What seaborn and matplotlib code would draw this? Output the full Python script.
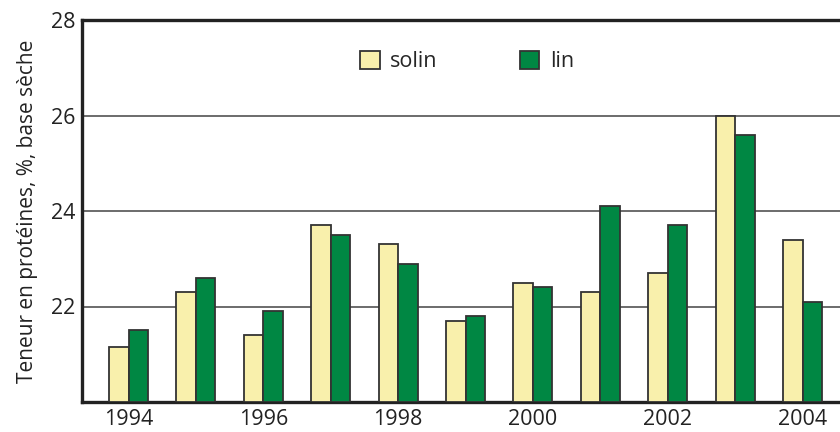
import matplotlib
matplotlib.use("Agg")
import matplotlib.pyplot as plt
import seaborn as sns
import pandas as pd
from matplotlib.patches import Patch

years = ["1994", "1995", "1996", "1997", "1998", "1999", "2000", "2001", "2002", "2003", "2004"]
solin = [21.15, 22.3, 21.4, 23.7, 23.3, 21.7, 22.5, 22.3, 22.7, 26.0, 23.4]
lin = [21.5, 22.6, 21.9, 23.5, 22.9, 21.8, 22.4, 24.1, 23.7, 25.6, 22.1]
series_names = ["solin", "lin"]
colors = {"solin": "#F9F0AC", "lin": "#008743"}

df = pd.DataFrame({
    "year": years * 2,
    "value": solin + lin,
    "series": ["solin"] * len(years) + ["lin"] * len(years),
})

sns.set_theme(style="white")
plt.rcParams["font.family"] = ["Open Sans", "DejaVu Sans"]

fig = plt.figure(figsize=(8.4, 4.32), dpi=100)
ax = fig.add_axes([82 / 840, 30 / 432, 1 - 82 / 840, 382 / 432])

sns.barplot(data=df, x="year", y="value", hue="series", hue_order=series_names,
            palette=colors, width=0.58, gap=0, edgecolor="#333333", linewidth=1.3,
            saturation=1, ax=ax, legend=False, zorder=3)

# bars from baseline 20
for p in ax.patches:
    h = p.get_height()
    p.set_y(20)
    p.set_height(h - 20)

ax.set_ylim(20, 28)
ax.set_xlim(-0.69, 10.556)
ax.set_yticks([22, 24, 26, 28])
ax.set_yticklabels(["22", "24", "26", "28"])
ax.set_xticks(range(0, len(years), 2))
ax.set_xticklabels(years[::2])
ax.tick_params(axis="both", length=0, labelsize=15.5, colors="#222222", pad=5)
for y in [22, 24, 26]:
    ax.axhline(y, color="#444444", linewidth=1.1, zorder=1)

for s in ["left", "bottom", "top"]:
    ax.spines[s].set_linewidth(2.4)
    ax.spines[s].set_color("#222222")
ax.spines["right"].set_visible(False)

ax.set_xlabel("")
ax.set_ylabel("Teneur en protéines, %, base sèche", fontsize=15, color="#222222", labelpad=9)

handles = [Patch(facecolor=colors[n], edgecolor="#333333", linewidth=1.3) for n in series_names]
ax.legend(handles, series_names, loc="upper center", bbox_to_anchor=(0.508, 0.97), ncol=2,
          frameon=False, fontsize=15.5, handlelength=0.9, handleheight=0.9,
          columnspacing=3.8, handletextpad=0.5)

fig.savefig("out.png", dpi=100)
